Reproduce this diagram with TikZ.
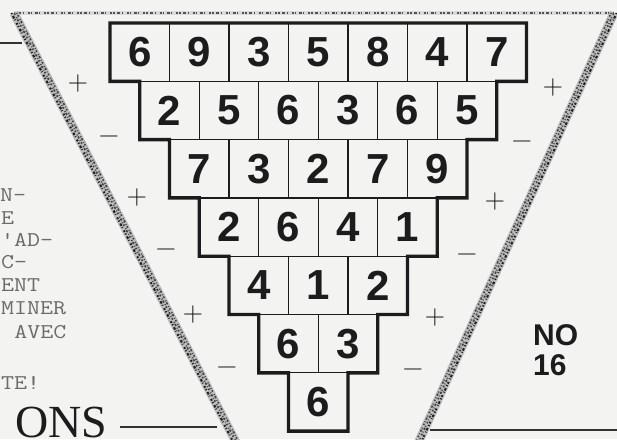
\documentclass[tikz,border=0pt]{standalone}
\usepackage{fontspec}
\newfontfamily\dgfont{Liberation Sans}
\newfontfamily\hdfont{Liberation Serif}
\definecolor{paper}{RGB}{243,243,241}
\definecolor{ink}{RGB}{28,28,28}
\newcommand{\twline}[1]{\scalebox{1.2}[1]{#1}}
\tikzset{
  cellbox/.style={draw=ink, line width=1.3pt, minimum width=59.5pt, minimum height=58.3pt,
    inner sep=0pt, outer sep=0pt, text=ink, font=\dgfont\bfseries\fontsize{42}{42}\selectfont},
  outline/.style={draw=ink, line width=3.4pt, line join=miter},
  sign/.style={inner sep=0pt, text=black!92, font=\fontsize{28}{28}\selectfont},
  twtext/.style={anchor=base west, inner sep=0pt, text=black!58, font=\ttfamily\fontsize{21}{21}\selectfont},
  numtext/.style={anchor=base west, inner sep=0pt, text=ink, font=\dgfont\bfseries\fontsize{30}{30}\selectfont},
  bandbase/.style={line width=9pt, draw=black!26},
  speckA/.style={line width=2pt, draw=black!88, dash pattern=on 1.2pt off 2.2pt on 2.6pt off 1.4pt on 0.8pt off 3pt on 1.8pt off 1.6pt},
  speckB/.style={line width=1.6pt, draw=black!75, dash pattern=on 0.8pt off 1.6pt on 1.6pt off 2.8pt on 1pt off 1.2pt on 2.2pt off 2pt},
  topbase/.style={line width=4pt, draw=black!14},
  topspeck/.style={line width=1.8pt, draw=black!68, dash pattern=on 1.5pt off 2.5pt on 3pt off 1.5pt on 1pt off 4pt on 2pt off 1pt},
  rulel/.style={draw=black!80, line width=2pt},
}
\begin{document}
\begin{tikzpicture}[x=1pt,y=-1pt]
\useasboundingbox (0,0) rectangle (617,439);
\fill[paper] (0,0) rectangle (617,439);
\begin{scope}
\clip (0,0) rectangle (617,439);

% triangle frame (speckled band)
\coordinate (TL) at (14,13);
\coordinate (TR) at (614,13);
\coordinate (BL) at (240,450);
\coordinate (BR) at (415,450);
\draw[topbase] (TL) -- (TR);
\draw[topspeck] (TL) -- (TR);
\draw[bandbase] (TL) -- (BL);
\draw[bandbase] (TR) -- (BR);
\draw[speckA, transform canvas={xshift=-2.6pt}] (TL) -- (BL);
\draw[speckB, transform canvas={xshift=2.8pt}] (TL) -- (BL);
\draw[speckB, dash phase=2pt, transform canvas={xshift=0.2pt}] (TL) -- (BL);
\draw[speckA, transform canvas={xshift=2.6pt}] (TR) -- (BR);
\draw[speckB, transform canvas={xshift=-2.8pt}] (TR) -- (BR);
\draw[speckB, dash phase=2pt, transform canvas={xshift=-0.2pt}] (TR) -- (BR);

% pyramid cells
\foreach \d [count=\c from 0] in {6,9,3,5,8,4,7}
  \node[cellbox] (c-0-\c) at ({110+0*29.75+(\c+0.5)*59.5},{23+0.5*58.3}) {\d};
\foreach \d [count=\c from 0] in {2,5,6,3,6,5}
  \node[cellbox] (c-1-\c) at ({110+1*29.75+(\c+0.5)*59.5},{23+1.5*58.3}) {\d};
\foreach \d [count=\c from 0] in {7,3,2,7,9}
  \node[cellbox] (c-2-\c) at ({110+2*29.75+(\c+0.5)*59.5},{23+2.5*58.3}) {\d};
\foreach \d [count=\c from 0] in {2,6,4,1}
  \node[cellbox] (c-3-\c) at ({110+3*29.75+(\c+0.5)*59.5},{23+3.5*58.3}) {\d};
\foreach \d [count=\c from 0] in {4,1,2}
  \node[cellbox] (c-4-\c) at ({110+4*29.75+(\c+0.5)*59.5},{23+4.5*58.3}) {\d};
\foreach \d [count=\c from 0] in {6,3}
  \node[cellbox] (c-5-\c) at ({110+5*29.75+(\c+0.5)*59.5},{23+5.5*58.3}) {\d};
\node[cellbox] (c-6-0) at ({110+6*29.75+0.5*59.5},{23+6.5*58.3}) {6};

\draw[outline] (c-0-0.north west) -- (c-0-6.north east) -- (c-0-6.south east)
  -- (c-1-5.north east) -- (c-1-5.south east)
  -- (c-2-4.north east) -- (c-2-4.south east)
  -- (c-3-3.north east) -- (c-3-3.south east)
  -- (c-4-2.north east) -- (c-4-2.south east)
  -- (c-5-1.north east) -- (c-5-1.south east)
  -- (c-6-0.north east) -- (c-6-0.south east) -- (c-6-0.south west)
  -- (c-6-0.north west) -- (c-5-0.south west) -- (c-5-0.north west)
  -- (c-4-0.south west) -- (c-4-0.north west)
  -- (c-3-0.south west) -- (c-3-0.north west)
  -- (c-2-0.south west) -- (c-2-0.north west)
  -- (c-1-0.south west) -- (c-1-0.north west)
  -- (c-0-0.south west) -- cycle;

% signs
\node[sign] (sl1) at (78,84) {+};
\node[sign] (sl2) at (109,140) {−};
\node[sign] (sl3) at (137,198) {+};
\node[sign] (sl4) at (166,253) {−};
\node[sign] (sl5) at (193,315) {+};
\node[sign] (sl6) at (227,371) {−};
\node[sign] (sr1) at (553,88) {+};
\node[sign] (sr2) at (522,145) {−};
\node[sign] (sr3) at (495,202) {+};
\node[sign] (sr4) at (467,258) {−};
\node[sign] (sr5) at (435,318) {+};
\node[sign] (sr6) at (413,373) {−};

% left typewriter column
\node[twtext] (t1) at (0,201) {\twline{N-}};
\node[twtext] (t2) at (1,224) {\twline{E}};
\node[twtext] (t3) at (1,246) {\twline{'AD-}};
\node[twtext] (t4) at (1,268) {\twline{C-}};
\node[twtext] (t5) at (1,291) {\twline{ENT}};
\node[twtext] (t6) at (1,314) {\twline{MINER}};
\node[twtext] (t7) at (14.2,338) {\twline{AVEC}};
\node[twtext] (t8) at (1,389) {\twline{TE!}};

% number label
\node[numtext] (no) at (533,345) {NO};
\node[numtext] (n16) at (533,375) {16};

% heading and rules
\node[anchor=base west, inner sep=0pt, text=ink, font=\hdfont\fontsize{46}{46}\selectfont] (ons) at (15,437.5) {ONS};
\coordinate (r1a) at (0,43);   \coordinate (r1b) at (22,43);
\coordinate (r2a) at (120,427); \coordinate (r2b) at (217,427);
\coordinate (r3a) at (430,430); \coordinate (r3b) at (617,430);
\draw[rulel] (r1a) -- (r1b);
\draw[rulel] (r2a) -- (r2b);
\draw[rulel] (r3a) -- (r3b);
\end{scope}
\end{tikzpicture}
\end{document}
